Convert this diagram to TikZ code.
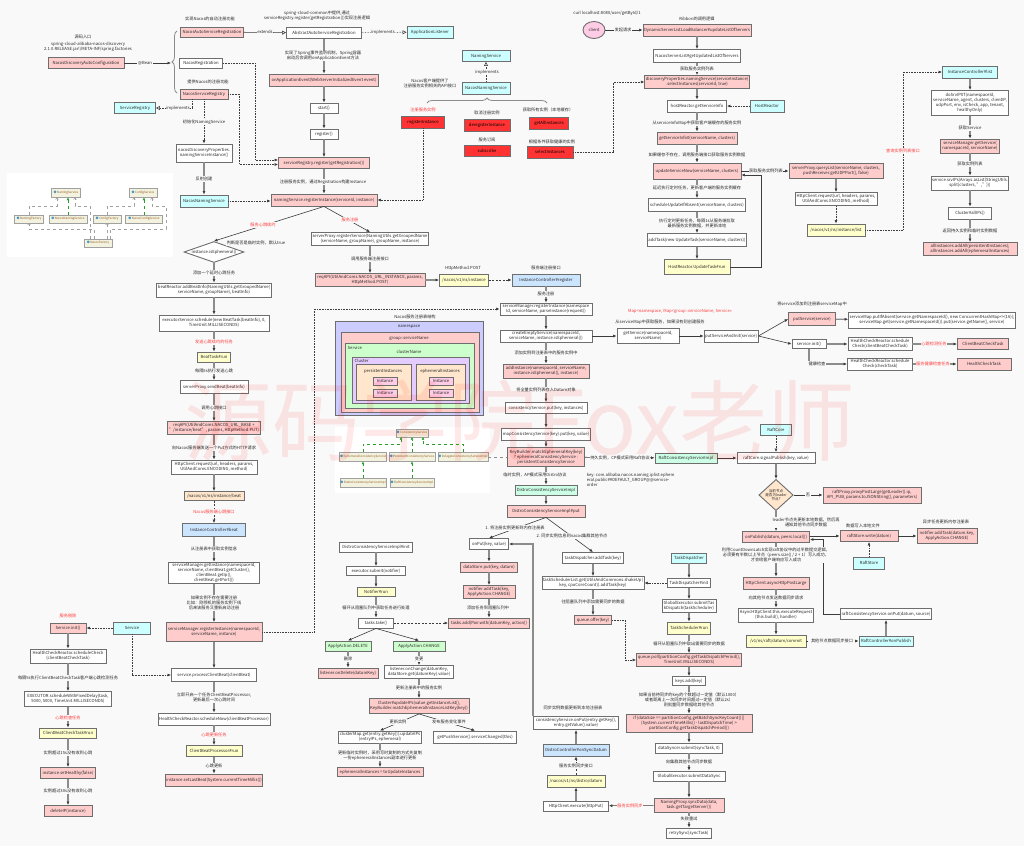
\documentclass[tikz,border=0pt]{standalone}
\usepackage{fontspec}
\setmainfont{Noto Sans CJK SC}
\usepackage{tikz}
\usetikzlibrary{shapes.geometric, arrows.meta, positioning,
                 decorations.pathreplacing, calc}
\definecolor{bgcol}{RGB}{249,249,249}
\definecolor{boxgrey}{RGB}{110,110,110}
\definecolor{linegrey}{RGB}{140,140,140}
\definecolor{darkline}{RGB}{60,60,60}
\definecolor{txtgrey}{RGB}{40,40,40}
\definecolor{markred}{RGB}{255,60,60}
\definecolor{pinkfill}{RGB}{255,204,204}
\definecolor{cyanfill}{RGB}{204,255,255}
\definecolor{yellowfill}{RGB}{255,255,204}
\definecolor{redfill}{RGB}{255,51,51}
\definecolor{bluefill}{RGB}{204,229,255}
\definecolor{greenfill}{RGB}{204,255,204}
\definecolor{mintfill}{RGB}{204,255,230}
\definecolor{peachfill}{RGB}{255,230,204}
\definecolor{lavfill}{RGB}{204,204,255}
\definecolor{lilacfill}{RGB}{229,204,255}
\definecolor{instfill}{RGB}{255,204,230}
\definecolor{clientfill}{RGB}{255,204,230}
\definecolor{umlfill}{RGB}{242,242,222}
\definecolor{umlline}{RGB}{160,160,160}
\definecolor{umltext}{RGB}{150,90,40}
\definecolor{umlgreen}{RGB}{40,160,40}
\definecolor{umlicon}{RGB}{70,150,200}

\begin{document}
\begin{tikzpicture}[x=1pt, y=-1pt,
  font=\fontsize{4.2}{5}\selectfont,
  sz/.style 2 args={minimum width=#1, minimum height=#2},
  wbox/.style={rectangle, draw=boxgrey, line width=0.9pt, fill=white,
               align=center, inner sep=1pt, text=txtgrey},
  pbox/.style={wbox, fill=pinkfill},
  cbox/.style={wbox, fill=cyanfill},
  ybox/.style={wbox, fill=yellowfill},
  rbox/.style={wbox, fill=redfill, text=black},
  bbox/.style={wbox, fill=bluefill},
  gbox/.style={wbox, fill=greenfill},
  mbox/.style={wbox, fill=mintfill},
  obox/.style={wbox, fill=peachfill},
  dia/.style={diamond, draw=boxgrey, line width=0.9pt, fill=white,
              align=center, inner sep=0pt, text=txtgrey},
  regbox/.style={rectangle, draw=boxgrey, line width=0.9pt, inner sep=0pt,
                 anchor=north west},
  panel/.style={rectangle, fill=white, inner sep=0pt, anchor=north west},
  umlbox/.style={rectangle, draw=umlline, line width=0.4pt, fill=umlfill,
                 text=umltext, inner sep=0.5pt,
                 font=\fontsize{3}{3.5}\selectfont},
  lbl/.style={fill=bgcol, inner sep=0.6pt, text=txtgrey, align=center},
  rlbl/.style={lbl, text=markred},
  tag/.style={inner sep=0.5pt, text=txtgrey},
  arr/.style={-{Latex[length=3.5pt,width=3pt,color=darkline]},
              line width=1.2pt, draw=linegrey},
  thinarr/.style={-{Latex[length=3.5pt,width=3pt]}, line width=0.6pt,
                  draw=darkline},
  dotarr/.style={thinarr, densely dotted},
  dasharr/.style={thinarr, dash pattern=on 2pt off 1.5pt},
  extarr/.style={-{Triangle[open,length=4pt,width=4pt]}, line width=0.6pt,
                 draw=darkline},
  implarr/.style={extarr, densely dotted},
  bracket/.style={decorate, decoration={brace, amplitude=5pt},
                  line width=0.8pt, draw=linegrey},
  umlgen/.style={-{Triangle[length=2.5pt,width=2.5pt]}, dashed,
                 line width=0.4pt, draw=umlgreen},
  umldep/.style={-{Straight Barb[length=1.5pt]}, dashed, line width=0.4pt,
                 draw=umlline}
]

% ── canvas ──
\fill[bgcol] (0,0) rectangle (1024,846);
\useasboundingbox (0,0) rectangle (1024,846);

% ── panels of the two class diagrams ──
\node[panel, sz={166}{84}] (umlPanelA) at (7,173) {};
\node[panel, sz={155}{66}] (umlPanelB) at (335,427) {};

% ── client: auto registration ──
\node[pbox, sz={76}{11}] (autoCfg)   at (86,63)  {NacosDiscoveryAutoConfiguration};
\node[pbox, sz={63}{10}] (autoReg)   at (212,32) {NacosAutoServiceRegistration};
\node[wbox, sz={43}{10}] (nacosRegn) at (201,63) {NacosRegistration};
\node[pbox, sz={48}{10}] (svcReg)    at (204,94) {NacosServiceRegistry};
\node[cbox, sz={41}{11}] (svcRegIf)  at (135,108) {ServiceRegistry};
\node[wbox, sz={56}{18}] (namingInit) at (204,153) {nacosDiscoveryProperties.\\namingServiceInstance()};
\node[cbox, sz={48}{12}] (namingSvcL) at (204,201) {NacosNamingService};

\node[wbox, sz={75}{11}]  (absReg)      at (324,33)  {AbstractAutoServiceRegistration};
\node[cbox, sz={46}{12}]  (appListener) at (430,32)  {ApplicationListener};
\node[pbox, sz={109}{12}] (onAppEvt)    at (324,80)  {onApplicationEvent(WebServerInitializedEvent event)};
\node[wbox, sz={28}{10}]  (startCall)   at (324,108) {start()};
\node[wbox, sz={28}{10}]  (registerCall) at (324,134) {register()};
\node[pbox, sz={91}{11}]  (regCall)     at (324,163) {serviceRegistry.register(getRegistration())};
\node[pbox, sz={106}{12}] (namingReg)   at (324,200) {namingService.registerInstance(serviceId, instance)};

% ── client: NamingService api ──
\node[cbox, sz={48}{11}] (namingSvcIf) at (486,56)  {NamingService};
\node[cbox, sz={48}{12}] (namingSvcR)  at (486,88)  {NacosNamingService};
\node[rbox, sz={43}{12}] (apiReg)      at (423,122) {registerInstance};
\node[rbox, sz={46}{12}] (apiDereg)    at (487,125) {deregisterInstance};
\node[rbox, sz={46}{11}] (apiSub)      at (487,151) {subscribe};
\node[rbox, sz={39}{12}] (apiAll)      at (549,123) {getAllInstances};
\node[rbox, sz={46}{12}] (apiSel)      at (550,152) {selectInstances};

% ── client: register request ──
\node[dia, aspect=3, sz={60}{21}] (isEph) at (214,252) {instance.isEphemeral()};
\node[wbox, sz={116}{13}] (regSvc)  at (370,239) {serverProxy.registerService(NamingUtils.getGroupedName\\(serviceName, groupName), groupName, instance)};
\node[pbox, sz={110}{13}] (reqPost) at (370,280) {reqAPI(UtilAndComs.NACOS\_URL\_INSTANCE, params,\\HttpMethod.POST)};
\node[ybox, sz={49}{12}]  (urlInst) at (464,280) {/nacos/v1/ns/instance};
\node[bbox, sz={68}{12}]  (ctrlReg) at (546,280) {InstanceController\#register};

% ── client: heartbeat ──
\node[wbox, sz={115}{14}] (addBeat)   at (214,290) {beatReactor.addBeatInfo(NamingUtils.getGroupedName(\\serviceName, groupName), beatInfo)};
\node[wbox, sz={110}{16}] (schedBeat) at (214,323) {executorService.schedule(new BeatTask(beatInfo), 0,\\TimeUnit.MILLISECONDS)};
\node[ybox, sz={33}{10}]  (beatRun)   at (214,357) {BeatTask\#run};
\node[wbox, sz={68}{13}]  (sendBeat)  at (214,387) {serverProxy.sendBeat(beatInfo)};
\node[pbox, sz={92}{13}]  (reqBeat)   at (214,428) {reqAPI(UtilAndComs.NACOS\_URL\_BASE +\\"/instance/beat", params, HttpMethod.PUT)};
\node[wbox, sz={86}{14}]  (httpBeat)  at (214,467) {HttpClient.request(url, headers, params,\\UtilAndComs.ENCODING, method)};
\node[obox, sz={60}{9}]   (urlBeat)   at (214,496) {/nacos/v1/ns/instance/beat};
\node[bbox, sz={63}{13}]  (ctrlBeat)  at (214,530) {InstanceController\#beat};
\node[wbox, sz={91}{21}]  (getInst)   at (214,573) {serviceManager.getInstance(namespaceId,\\serviceName, clientBeat.getCluster(),\\clientBeat.getIp(),\\clientBeat.getPort())};
\node[pbox, sz={96}{19}]  (regInstB)  at (214,632) {serviceManager.registerInstance(namespaceId,\\serviceName, instance)};
\node[wbox, sz={85}{13}]  (procBeat)  at (214,675) {service.processClientBeat(clientBeat)};
\node[wbox, sz={112}{12}] (schedNow)  at (214,719) {HealthCheckReactor.scheduleNow(clientBeatProcessor)};
\node[ybox, sz={56}{11}]  (procRun)   at (214,751) {ClientBeatProcessor\#run};
\node[pbox, sz={96}{12}]  (setLast)   at (214,780) {instance.setLastBeat(System.currentTimeMillis())};

% ── server: expired instances ──
\node[cbox, sz={37}{12}] (svcBox)     at (132,628) {Service};
\node[pbox, sz={36}{10}] (svcInitL)   at (68,628)  {Service.init()};
\node[wbox, sz={76}{14}] (hcSched)    at (68,656)  {HealthCheckReactor.scheduleCheck\\(clientBeatCheckTask)};
\node[wbox, sz={87}{15}] (fixDelay)   at (68,699)  {EXECUTOR.scheduleWithFixedDelay(task,\\5000, 5000, TimeUnit.MILLISECONDS)};
\node[ybox, sz={57}{10}] (checkRun)   at (68,733)  {ClientBeatCheckTask\#run};
\node[pbox, sz={55}{11}] (setHealthy) at (68,773)  {instance.setHealthy(false)};
\node[pbox, sz={48}{11}] (delIp)      at (68,811)  {deleteIP(instance)};

% ── registry structure ──
\node[regbox, fill=lavfill,   sz={148}{94}] (nsBox)   at (335,321) {};
\node[regbox, fill=pinkfill,  sz={138}{80}] (grpBox)  at (341,332) {};
\node[regbox, fill=greenfill, sz={129}{65}] (svcArea) at (345,343) {};
\node[regbox, fill=lilacfill, sz={117}{46}] (cluBox)  at (352,357) {};
\node[regbox, fill=peachfill, sz={55}{36}]  (perBox)  at (356,364) {};
\node[regbox, fill=peachfill, sz={49}{36}]  (ephBox)  at (416,364) {};
\node[wbox, fill=instfill, sz={24}{8}] (instA) at (385,381) {Instance};
\node[wbox, fill=instfill, sz={24}{8}] (instB) at (385,393) {Instance};
\node[wbox, fill=instfill, sz={24}{8}] (instC) at (441,381) {Instance};
\node[wbox, fill=instfill, sz={24}{8}] (instD) at (441,393) {Instance};
\node[tag] (tNs)      at (409,327) {namespace};
\node[tag] (tGrp)     at (409,338) {group::serviceName};
\node[tag, anchor=west] (tSvc) at (347,348) {Service};
\node[tag] (tCluName) at (409,352) {clusterName};
\node[tag, anchor=west] (tClu) at (354,361) {Cluster};
\node[tag] (tPer)     at (383,371) {persistentInstances};
\node[tag] (tEph)     at (440,371) {ephemeralInstances};

% ── class diagram: factories ──
\node[umlbox, sz={29}{9}] (namingSvcU)   at (66,193)  {{\color{umlicon}●}\,NamingService};
\node[umlbox, sz={28}{9}] (configSvcU)   at (143,193) {{\color{umlicon}●}\,ConfigService};
\node[umlbox, sz={29}{8}] (namingFacU)   at (29,219)  {{\color{umlicon}●}\,NamingFactory};
\node[umlbox, sz={38}{8}] (nacosNamingU) at (68,219)  {{\color{umlicon}●}\,NacosNamingService};
\node[umlbox, sz={28}{8}] (configFacU)   at (107,219) {{\color{umlicon}●}\,ConfigFactory};
\node[umlbox, sz={37}{8}] (nacosConfU)   at (144,219) {{\color{umlicon}●}\,NacosConfigService};
\node[umlbox, sz={28}{8}] (nacosFacU)    at (98,243)  {{\color{umlicon}●}\,NacosFactory};

% ── class diagram: consistency services ──
\node[umlbox, sz={31}{8}] (consCS)   at (412,433) {{\color{umlicon}●}\,ConsistencyService};
\node[umlbox, sz={44}{9}] (ephemCS)  at (363,457) {{\color{umlicon}●}\,EphemeralConsistencyService};
\node[umlbox, sz={43}{9}] (persCS)   at (412,457) {{\color{umlicon}●}\,PersistentConsistencyService};
\node[umlbox, sz={49}{9}] (delegCS)  at (463,457) {{\color{umlicon}●}\,DelegateConsistencyServiceImpl};
\node[umlbox, sz={44}{9}] (distroCS) at (363,483) {{\color{umlicon}●}\,DistroConsistencyServiceImpl};
\node[umlbox, sz={42}{9}] (raftCS)   at (412,483) {{\color{umlicon}●}\,RaftConsistencyServiceImpl};

% ── server: register ──
\node[wbox, sz={92}{12}]  (svcMgrReg)  at (546,309) {serviceManager.registerInstance(namespace\\Id, serviceName, parseInstance(request))};
\node[wbox, sz={92}{12}]  (createEmpty) at (546,336) {createEmptyService(namespaceId,\\serviceName, instance.isEphemeral())};
\node[wbox, sz={62}{15}]  (getSvc)     at (648,336) {getService(namespaceId,\\serviceName)};
\node[wbox, sz={53}{12}]  (putInit)    at (731,336) {putServiceAndInit(service)};
\node[pbox, sz={47}{13}]  (putSvc)     at (812,319) {putService(service)};
\node[wbox, sz={152}{16}] (mapPut)     at (932,320) {serviceMap.putIfAbsent(service.getNamespaceId(), new ConcurrentHashMap<>(16));\\serviceMap.get(service.getNamespaceId()).put(service.getName(), service)};
\node[wbox, sz={34}{9}]   (svcInit)    at (809,344) {service.init()};
\node[wbox, sz={64}{13}]  (hcBeat)     at (880,344) {HealthCheckReactor.schedule\\Check(clientBeatCheckTask)};
\node[pbox, sz={51}{11}]  (beatTask)   at (983,344) {ClientBeatCheckTask};
\node[wbox, sz={65}{12}]  (hcCheck)    at (880,364) {HealthCheckReactor.schedule\\Check(checkTask)};
\node[pbox, sz={54}{12}]  (hcTask)     at (984,364) {HealthCheckTask};
\node[pbox, sz={86}{14}]  (addInst)    at (546,371) {addInstance(namespaceId, serviceName,\\instance.isEphemeral(), instance)};
\node[wbox, sz={82}{11}]  (consPut)    at (546,408) {consistencyService.put(key, instances)};
\node[wbox, sz={87}{12}]  (mapConsPut) at (546,434) {mapConsistencyService(key).put(key, value)};
\node[pbox, sz={77}{19}]  (keyMatch)   at (546,457) {KeyBuilder.matchEphemeralKey(key)\\? ephemeralConsistencyService :\\persistentConsistencyService};
\node[mbox, sz={62}{10}]  (raftImpl)   at (686,458) {RaftConsistencyServiceImpl};
\node[wbox, sz={78}{11}]  (raftSignal) at (776,458) {raftCore.signalPublish(key, value)};
\node[cbox, sz={31}{11}]  (raftCore)   at (776,430) {RaftCore};
\node[mbox, sz={62}{10}]  (distroImpl) at (546,490) {DistroConsistencyServiceImpl};
\node[pbox, sz={78}{12}]  (distroPut)  at (546,511) {DistroConsistencyServiceImpl\#put};

% ── server: raft ──
\node[dia, fill=peachfill, aspect=1.1, sz={34}{30},
      font=\fontsize{3.6}{4.2}\selectfont] (leaderDia) at (776,495) {当前节点\\是否为leader\\节点?};
\node[pbox, sz={98}{16}] (proxyPost)  at (872,495) {raftProxy.proxyPostLarge(getLeader().ip,\\API\_PUB, params.toJSONString(), parameters)};
\node[pbox, sz={67}{11}] (onPublish)  at (776,537) {onPublish(datum, peers.local())};
\node[pbox, sz={58}{11}] (raftWrite)  at (869,536) {raftStore.write(datum)};
\node[cbox, sz={31}{12}] (raftStore)  at (869,563) {RaftStore};
\node[pbox, sz={60}{15}] (notifyRaft) at (947,536) {notifier.addTask(datum.key,\\ApplyAction.CHANGE)};
\node[pbox, sz={66}{12}] (asyncPost)  at (776,583) {HttpClient.asyncHttpPostLarge};
\node[wbox, sz={75}{14}] (execReq)    at (776,615) {AsyncHttpClient.this.executeRequest\\(this.build(), handler)};
\node[ybox, sz={60}{12}] (urlCommit)  at (776,641) {/v1/ns/raft/datum/commit};
\node[cbox, sz={54}{10}] (raftPub)    at (886,641) {RaftController\#onPublish};
\node[wbox, sz={90}{11}] (raftOnPut)  at (886,614) {raftConsistencyService.onPut(datum, source)};

% ── server: distro, local ──
\node[wbox, sz={39}{11}]  (onPut)      at (489,544) {onPut(key, value)};
\node[pbox, sz={57}{10}]  (dsPut)      at (489,567) {dataStore.put(key, datum)};
\node[pbox, sz={52}{13}]  (notAdd)     at (489,592) {notifier.addTask(key,\\ApplyAction.CHANGE)};
\node[pbox, sz={81}{10}]  (tasksAdd)   at (489,623) {tasks.add(Pair.with(datumKey, action))};
\node[wbox, sz={73}{10}]  (distroInit) at (376,547) {DistroConsistencyServiceImpl\#init};
\node[wbox, sz={59}{9}]   (execSub)    at (376,571) {executor.submit(notifier)};
\node[ybox, sz={38}{9}]   (notRun)     at (376,592) {Notifier\#run};
\node[wbox, sz={35}{10}]  (tasksTake)  at (376,623) {tasks.take()};
\node[gbox, sz={46}{10}]  (actDel)     at (348,646) {ApplyAction.DELETE};
\node[gbox, sz={52}{10}]  (actChg)     at (419,646) {ApplyAction.CHANGE};
\node[pbox, sz={60}{10}]  (onDel)      at (348,673) {listener.onDelete(datumKey)};
\node[wbox, sz={69}{13}]  (onChg)      at (419,672) {listener.onChange(datumKey,\\dataStore.get(datumKey).value)};
\node[pbox, sz={100}{15}] (updIps)     at (419,706) {Cluster\#updateIPs(value.getInstanceList(),\\KeyBuilder.matchEphemeralInstanceListKey(key))};
\node[wbox, sz={83}{12}]  (cluUpd)     at (380,737) {clusterMap.get(entry.getKey()).updateIPs\\(entryIPs, ephemeral)};
\node[wbox, sz={83}{12}]  (pushChg)    at (475,737) {getPushService().serviceChanged(this)};
\node[pbox, sz={86}{9}]   (ephSet)     at (380,772) {ephemeralInstances = toUpdateInstances};

% ── server: distro, sync ──
\node[wbox, sz={61}{11}]  (dispAdd)   at (593,558) {taskDispatcher.addTask(key)};
\node[cbox, sz={35}{10}]  (taskDisp)  at (689,558) {TaskDispatcher};
\node[wbox, sz={101}{13}] (schedList) at (593,583) {taskSchedulerList.get(UtilsAndCommons.shakeUp(\\key, cpuCoreCount)).addTask(key)};
\node[wbox, sz={43}{9}]   (dispInit)  at (689,583) {TaskDispatcher\#init};
\node[pbox, sz={37}{9}]   (qOffer)    at (593,620) {queue.offer(key)};
\node[wbox, sz={54}{13}]  (subDisp)   at (689,606) {GlobalExecutor.submitTas\\kDispatch(taskScheduler)};
\node[ybox, sz={43}{12}]  (schedRun)  at (689,628) {TaskScheduler\#run};
\node[pbox, sz={105}{13}] (qPoll)     at (689,660) {queue.poll(partitionConfig.getTaskDispatchPeriod(),\\TimeUnit.MILLISECONDS)};
\node[wbox, sz={33}{9}]   (keysAdd)   at (689,681) {keys.add(key)};
\node[pbox, sz={126}{18}] (ifBatch)   at (689,723) {if (dataSize == partitionConfig.getBatchSyncKeyCount() ||\\(System.currentTimeMillis() - lastDispatchTime) >\\partitionConfig.getTaskDispatchPeriod())};
\node[wbox, sz={67}{10}]  (syncSub)   at (689,748) {dataSyncer.submit(syncTask, 0)};
\node[wbox, sz={72}{10}]  (subSync)   at (689,776) {GlobalExecutor.submitDataSync};
\node[pbox, sz={70}{14}]  (syncData)  at (689,805) {NamingProxy.syncData(data,\\task.getTargetServer())};
\node[wbox, sz={45}{10}]  (retry)     at (689,833) {retrySync(syncTask)};
\node[wbox, sz={65}{10}]  (httpExec)  at (576,806) {HttpClient.execute(httpPut)};
\node[ybox, sz={58}{12}]  (urlDatum)  at (576,781) {/nacos/v1/ns/distro/datum};
\node[bbox, sz={66}{12}]  (ctrlDatum) at (576,750) {DistroController\#onSyncDatum};
\node[wbox, sz={85}{13}]  (cOnPut)    at (576,723) {consistencyService.onPut(entry.getKey(),\\entry.getValue().value)};

% ── client: service discovery ──
\node[ellipse, draw=boxgrey, line width=0.9pt, fill=clientfill, text=txtgrey,
      inner sep=0pt, sz={22}{17}] (client) at (594,30) {client};
\node[pbox, sz={108}{12}] (dynLB)       at (697,30)  {DynamicServerListLoadBalancer\#updateListOfServers};
\node[wbox, sz={87}{13}]  (srvList)     at (697,56)  {NacosServerList\#getUpdatedListOfServers};
\node[pbox, sz={91}{13}]  (discSel)     at (697,82)  {discoveryProperties.namingService(serviceInstance)\\.selectInstances(serviceId, true)};
\node[wbox, sz={59}{12}]  (hostGet)     at (697,106) {hostReactor.getServiceInfo};
\node[cbox, sz={34}{12}]  (hostReactor) at (767,106) {HostReactor};
\node[pbox, sz={80}{12}]  (getInfo0)    at (697,138) {getServiceInfo0(serviceName, clusters)};
\node[pbox, sz={88}{16}]  (updNow)      at (697,171) {updateServiceNow(serviceName, clusters)};
\node[wbox, sz={97}{13}]  (schedUpd)    at (697,205) {scheduleUpdateIfAbsent(serviceName, clusters)};
\node[wbox, sz={99}{13}]  (addUpd)      at (697,240) {addTask(new UpdateTask(serviceName, clusters))};
\node[ybox, sz={66}{15}]  (updRun)      at (697,267) {HostReactor.UpdateTask\#run};
\node[pbox, sz={94}{15}]  (queryList)   at (836,171) {serverProxy.queryList(serviceName, clusters,\\pushReceiver.getUDPPort(), false)};
\node[wbox, sz={82}{13}]  (httpReq)     at (836,199) {HttpClient.request(url, headers, params,\\UtilAndComs.ENCODING, method)};
\node[ybox, sz={58}{12}]  (urlList)     at (836,230) {/nacos/v1/ns/instance/list};
\node[cbox, sz={55}{12}]  (ctrlList)    at (970,72)  {InstanceController\#list};
\node[wbox, sz={77}{25}]  (doSrv)       at (970,103) {doSrvIPXT(namespaceId,\\serviceName, agent, clusters, clientIP,\\udpPort, env, isCheck, app, tenant,\\healthyOnly)};
\node[pbox, sz={59}{14}]  (getSvcS)     at (970,146) {serviceManager.getService(\\namespaceId, serviceName)};
\node[wbox, sz={76}{14}]  (srvIps)      at (970,183) {service.srvIPs(Arrays.asList(StringUtils.\\split(clusters, ",")))};
\node[wbox, sz={43}{12}]  (allIps)      at (970,213) {Cluster\#allIPs()};
\node[pbox, sz={94}{13}]  (addAll)      at (970,249) {allInstances.addAll(persistentInstances);\\allInstances.addAll(ephemeralInstances)};

% ── connectors: client registration ──
\coordinate (braceTip) at (171,63);
\draw[thinarr] (autoCfg) -- (braceTip);
\draw[bracket] (177,93) -- (177,31);
\draw[extarr] (autoReg) -- (absReg);
\draw[implarr] (absReg) -- (appListener);
\draw[implarr] ([xshift=-12pt]svcReg.south) |- (svcRegIf.east);
\draw[dotarr] (svcReg) -- (namingInit);
\draw[arr] (namingInit) -- (namingSvcL);
\draw[dotarr] (namingSvcL.east) -- (namingSvcL.east -| namingReg.west);
\draw[dotarr] (nacosRegn.east) -- ++(32,0) |- ([yshift=3pt]regCall.west);
\draw[dotarr] (svcReg.east) -- ++(11,0) |- ([yshift=-1.5pt]regCall.west);
\draw[arr] (absReg) -- (onAppEvt);
\draw[arr] (onAppEvt) -- (startCall);
\draw[arr] (startCall) -- (registerCall);
\draw[arr] (registerCall) -- (regCall);
\draw[arr] (regCall) -- (namingReg);
\draw[implarr] (namingSvcR) -- (namingSvcIf);
\draw[bracket] (427,103) -- (547,103);
\draw[dotarr] (apiReg.south) |- (namingReg.east);
\draw[thinarr] (namingReg.south) -- (isEph.north);
\draw[thinarr] (namingReg.south) -- (regSvc.north);
\draw[arr] (regSvc) -- (reqPost);
\draw[arr] (reqPost) -- (urlInst);
\draw[dasharr] (urlInst) -- (ctrlReg);
\draw[arr] (ctrlReg) -- (svcMgrReg);

% ── connectors: heartbeat ──
\draw[arr] (isEph) -- (addBeat);
\draw[arr] (addBeat) -- (schedBeat);
\draw[arr] (schedBeat) -- (beatRun);
\draw[arr] (beatRun) -- (sendBeat);
\draw[arr] (sendBeat) -- (reqBeat);
\draw[arr] (reqBeat) -- (httpBeat);
\draw[arr] (httpBeat) -- (urlBeat);
\draw[dasharr] (urlBeat) -- (ctrlBeat);
\draw[arr] (ctrlBeat) -- (getInst);
\draw[arr] (getInst) -- (regInstB);
\draw[arr] (regInstB) -- (procBeat);
\draw[arr] (procBeat) -- (schedNow);
\draw[arr] (schedNow) -- (procRun);
\draw[arr] (procRun) -- (setLast);
\draw[dotarr] (svcBox) -- (svcInitL);
\draw[dotarr] (svcBox.south) |- (procBeat.west);
\draw[arr] (svcInitL) -- (hcSched);
\draw[arr] (hcSched) -- (fixDelay);
\draw[arr] (fixDelay) -- (checkRun);
\draw[arr] (checkRun) -- (setHealthy);
\draw[arr] (setHealthy) -- (delIp);
\draw[dotarr] (regInstB.east) -- ++(52,0) |- (svcMgrReg.west);

% ── connectors: class diagrams ──
\draw[umlgen] (nacosNamingU.north) -- (nacosNamingU.north |- namingSvcU.south);
\draw[umlgen] (nacosConfU.north) -- (nacosConfU.north |- configSvcU.south);
\draw[umldep] (namingFacU.north) -- ++(0,-9) -| ([xshift=-9pt]namingSvcU.south);
\draw[umldep] (configFacU.north) -- ++(0,-9) -| ([xshift=-9pt]configSvcU.south);
\draw[umldep] ([xshift=-8pt]nacosFacU.north) -- ++(0,-33) -| ([xshift=9pt]namingSvcU.south);
\draw[umldep] ([xshift=-4pt]nacosFacU.north) -- ++(0,-10) -| (namingFacU.south);
\draw[umldep] ([xshift=9pt]nacosFacU.north) -- (configFacU.south);
\draw[umldep] ([xshift=12pt]nacosFacU.north) -- ++(0,-10) -| ++(56,-23) -| ([xshift=9pt]configSvcU.south);
\draw[umlgen] (ephemCS.north) -- ++(0,-8) -| ([xshift=-11pt]consCS.south);
\draw[umlgen] (persCS) -- (consCS);
\draw[umlgen] (delegCS.north) -- ++(0,-8) -| ([xshift=11pt]consCS.south);
\draw[umlgen] (distroCS) -- (ephemCS);
\draw[umlgen] (raftCS) -- (persCS);
\draw[dashed, line width=0.5pt, draw=linegrey] (delegCS.east) -- (keyMatch.west);

% ── connectors: server register ──
\draw[arr] (svcMgrReg) -- (createEmpty);
\draw[thinarr] (createEmpty) -- (getSvc);
\draw[thinarr] (getSvc) -- (putInit);
\draw[thinarr] (putInit.east) -- (putSvc.west);
\draw[thinarr] (putInit.east) -- (svcInit.west);
\draw[arr] (putSvc) -- (mapPut);
\draw[arr] (svcInit) -- (hcBeat);
\draw[arr] (hcBeat) -- (beatTask);
\draw[arr] (svcInit.south) |- (hcCheck.west);
\draw[arr] (hcCheck) -- (hcTask);
\draw[arr] (createEmpty) -- (addInst);
\draw[arr] (addInst) -- (consPut);
\draw[arr] (consPut) -- (mapConsPut);
\draw[arr] (mapConsPut) -- (keyMatch);
\draw[arr] (keyMatch) -- (distroImpl);
\draw[arr] (distroImpl) -- (distroPut);
\draw[thinarr] (keyMatch) -- (raftImpl);
\draw[thinarr] (raftImpl) -- (raftSignal);

% ── connectors: raft ──
\draw[dotarr] (raftCore) -- (raftSignal);
\draw[arr] (raftSignal) -- (leaderDia);
\draw[thinarr] (leaderDia) -- (proxyPost);
\draw[arr] (leaderDia) -- (onPublish);
\draw[thinarr] ([yshift=1pt]onPublish.east) -- ([yshift=1pt]onPublish.east -| raftWrite.west);
\draw[thinarr] (raftWrite) -- (notifyRaft);
\draw[dotarr] (raftStore) -- (raftWrite);
\draw[arr] (onPublish) -- (asyncPost);
\draw[arr] (asyncPost) -- (execReq);
\draw[arr] (execReq) -- (urlCommit);
\draw[dasharr] (urlCommit) -- (raftPub);
\draw[arr] (raftPub) -- (raftOnPut);
\draw[thinarr] (raftOnPut.west) -- ++(-17,0) |- ([yshift=-2.5pt]onPublish.east);

% ── connectors: distro ──
\draw[thinarr] (distroPut.south) -- (onPut.north);
\draw[thinarr] (distroPut.south) -- (dispAdd.north);
\draw[arr] (onPut) -- (dsPut);
\draw[arr] (dsPut) -- (notAdd);
\draw[arr] (notAdd) -- (tasksAdd);
\draw[arr] (distroInit) -- (execSub);
\draw[arr] (execSub) -- (notRun);
\draw[arr] (notRun) -- (tasksTake);
\draw[dasharr] (tasksTake) -- (tasksAdd);
\draw[thinarr] (tasksTake.south) -- (actDel.north);
\draw[thinarr] (tasksTake.south) -- (actChg.north);
\draw[arr] (actDel) -- (onDel);
\draw[arr] (actChg) -- (onChg);
\draw[arr] (onChg) -- (updIps);
\draw[thinarr] (updIps.south) -- (cluUpd.north);
\draw[thinarr] (updIps.south) -- (pushChg.north);
\draw[arr] (cluUpd) -- (ephSet);
\draw[arr] (dispAdd) -- (schedList);
\draw[arr] (schedList) -- (qOffer);
\draw[arr] (taskDisp) -- (dispInit);
\draw[dotarr] (dispInit) -- (schedList);
\draw[arr] (dispInit) -- (subDisp);
\draw[arr] (subDisp) -- (schedRun);
\draw[arr] (schedRun) -- (qPoll);
\draw[dotarr] (qOffer.east) -- ++(13,0) |- (qPoll.west);
\draw[arr] (qPoll) -- (keysAdd);
\draw[arr] (keysAdd) -- (ifBatch);
\draw[arr] (ifBatch) -- (syncSub);
\draw[arr] (syncSub) -- (subSync);
\draw[arr] (subSync) -- (syncData);
\draw[arr] (syncData) -- (retry);
\draw[thinarr] (syncData) -- (httpExec);
\draw[arr] (httpExec) -- (urlDatum);
\draw[dasharr] (urlDatum) -- (ctrlDatum);
\draw[arr] (ctrlDatum) -- (cOnPut);
\draw[arr] (cOnPut.north west) |- (onPut.east);

% ── connectors: service discovery ──
\draw[thinarr] (client) -- (dynLB);
\draw[arr] (dynLB) -- (srvList);
\draw[arr] (srvList) -- (discSel);
\draw[arr] (discSel) -- (hostGet);
\draw[arr] (hostGet) -- (getInfo0);
\draw[arr] (getInfo0) -- (updNow);
\draw[arr] (updNow) -- (schedUpd);
\draw[arr] (schedUpd) -- (addUpd);
\draw[arr] (addUpd) -- (updRun);
\draw[dotarr] (hostReactor) -- (hostGet);
\draw[dotarr] (apiSel.east) -- ++(40,0) |- (discSel.west);
\draw[thinarr] (updRun.east) -- ++(31,0) |- ([yshift=-4pt]updNow.east);
\draw[thinarr] (updNow.east) -- (queryList.west);
\draw[arr] (queryList) -- (httpReq);
\draw[dotarr] (httpReq) -- (urlList);
\draw[dotarr] (urlList.east) -- ++(38,0) |- (ctrlList.west);
\draw[arr] (ctrlList) -- (doSrv);
\draw[arr] (doSrv) -- (getSvcS);
\draw[arr] (getSvcS) -- (srvIps);
\draw[arr] (srvIps) -- (allIps);
\draw[arr] (allIps) -- (addAll);

% ── labels: client registration ──
\node[lbl] (lSrc)     at (83,37)    {源码入口};
\node[lbl] (lJar)     at (88,46.5)  {spring-cloud-alibaba-nacos-discovery\\2.1.0.RELEASE.jar!/META-INF/spring.factories};
\node[lbl] (lBean)    at (145,63)   {@Bean};
\node[lbl] (lAuto)    at (210,19)   {实现Nacos的自动注册功能};
\node[lbl] (lProv)    at (208,82)   {提供Nacos的注册功能};
\node[lbl] (lImplA)   at (178,108)  {implements};
\node[lbl] (lInitNs)  at (204,122)  {初始化NamingService};
\node[lbl] (lRefl)    at (204,179)  {反射创建};
\node[lbl] (lCommon)  at (317,15.5) {spring-cloud-common中提供,通过\\serviceRegistry.register(getRegistration())实现注册逻辑};
\node[lbl] (lExt)     at (265,32)   {extends};
\node[lbl] (lImplB)   at (383,32)   {implements};
\node[lbl] (lEvent)   at (323,56)   {实现了Spring事件监听机制，Spring容器\\启动后会调用onApplicationEvent方法};
\node[lbl] (lBuild)   at (323,182)  {注册服务实例，通过Registration构建Instance};
\node[lbl] (lImplC)   at (487,72)   {implements};
\node[lbl] (lClient)  at (430,83.5) {Nacos客户端提供了\\注册服务实例相关的API接口};
\node[rlbl] (lApiReg) at (423,110)  {注册服务实例};
\node[lbl] (lApiDereg) at (487,113) {取消注册实例};
\node[lbl] (lApiSub)  at (487,140)  {服务订阅};
\node[lbl] (lApiAll)  at (548,110)  {获取所有实例（本地缓存）};
\node[lbl] (lApiSel)  at (552,142)  {根据条件获取健康的实例};
\node[rlbl] (lBeatBr) at (263,225)  {服务心跳续约};
\node[rlbl] (lRegBr)  at (350,220)  {服务注册};
\node[lbl] (lIsEph)   at (256,243)  {判断是否是临时实例，默认true};
\node[lbl] (lAddBeat) at (214,273)  {添加一个延时心跳任务};
\node[lbl] (lCallReg) at (370,259)  {调用服务端注册接口};
\node[lbl] (lPost)    at (463,268)  {HttpMethod.POST};
\node[lbl] (lRegApi)  at (546,268)  {服务端注册接口};
\node[lbl] (lSvcReg)  at (546,294)  {服务注册};

% ── labels: heartbeat ──
\node[rlbl] (lBeatTask) at (214,342) {发送心跳续约的任务};
\node[lbl] (lEvery5)  at (214,371)  {每隔5s执行发送心跳};
\node[lbl] (lCallBeat) at (214,408) {调用心跳接口};
\node[lbl] (lPut)     at (214,448)  {向Nacos服务端发送一个Put方式的HTTP请求};
\node[rlbl] (lBeatApi) at (214,512) {Nacos服务端心跳接口};
\node[lbl] (lGetInst) at (214,549)  {从注册表中获取实例信息};
\node[lbl] (lReReg)   at (214,603)  {如果实例不存在需要注册\\比如：刚停机的服务实例下线\\后来该服务又重新启动注册};
\node[lbl] (lProc)    at (214,697.5) {立即开启一个任务ClientBeatProcessor,\\更新最后一次心跳时间};
\node[rlbl] (lUpdTask) at (214,735) {心跳更新任务};
\node[lbl] (lUpd)     at (214,766)  {心跳更新};
\node[rlbl] (lEvict)  at (68,616)   {服务剔除};
\node[lbl] (lEvery5b) at (68,678)   {每隔5s执行ClientBeatCheckTask客户端心跳检测任务};
\node[rlbl] (lCheck)  at (68,718)   {心跳检查任务};
\node[lbl] (l15s)     at (68,753)   {实例超过15s没有收到心跳};
\node[lbl] (l30s)     at (68,791)   {实例超过30s没有收到心跳};

% ── labels: server ──
\node[tag] (lTable)   at (415,317)  {Nacos服务注册表结构};
\node[rlbl] (lMap)    at (680,311)  {Map<namespace, Map<group::serviceName, Service>>};
\node[lbl] (lGetSvc)  at (660,322)  {从serviceMap中获取服务，如果没有则创建服务};
\node[lbl] (lPutSvc)  at (812,304)  {将service添加到注册表serviceMap中};
\node[rlbl] (lBeatChk) at (934,344) {心跳检测任务};
\node[lbl] (lHealth)  at (817,364)  {健康检查};
\node[rlbl] (lHcTask) at (933,364)  {服务健康检查任务};
\node[lbl] (lAddInst) at (546,353)  {添加实例到注册表中的服务实例中};
\node[lbl] (lDatum)   at (546,390)  {将全量实例列表存入Datum对象};
\node[lbl] (lCp)      at (620,458)  {持久实例，CP模式采用Raft协议};
\node[lbl] (lAp)      at (535,475)  {临时实例，AP模式采用Distro协议};
\node[lbl, align=left, anchor=west] (lKey) at (586,480) {key: com.alibaba.nacos.naming.iplist.ephem\\eral.public\#\#DEFAULT\_GROUP@@service-\\order};
\node[lbl] (lStepA)   at (515,528)  {1. 将注册实例更新到内存注册表};
\node[lbl] (lStepB)   at (572,536)  {2. 同步实例信息到nacos集群其他节点};
\node[lbl] (lQueue)   at (488,608)  {添加任务到阻塞队列中};
\node[lbl] (lLoop)    at (376,608)  {循环从阻塞队列中获取任务进行处理};
\node[lbl] (lDel)     at (348,659)  {删除};
\node[lbl] (lChg)     at (419,659)  {变更};
\node[lbl] (lUpdReg)  at (419,688)  {更新注册表中的服务实例};
\node[lbl] (lUpdInst) at (398,722)  {更新实例};
\node[lbl] (lPubEvt)  at (449,722)  {发布服务变化事件};
\node[lbl] (lCow)     at (380,755.5) {更新临时实例时，采用写时复制的方式先复制\\一份ephemeralInstances副本进行更新};

% ── labels: raft ──
\node[lbl] (lNo)      at (808,495)  {否};
\node[lbl] (lYes)     at (776,520)  {是};
\node[lbl] (lLeader)  at (806,522.5) {leader节点先更新本地数据，然后再\\通知其他节点同步数据};
\node[lbl] (lWrite)   at (863,526)  {数据写入本地文件};
\node[lbl] (lAsync)   at (946,522)  {异步任务更新内存注册表};
\node[lbl] (lLatch)   at (776,555)  {利用CountDownLatch实现raft协议中的过半数提交逻辑，\\必须要有半数以上节点（peers.size() / 2 + 1）写入成功，\\才会给客户端响应写入成功};
\node[lbl] (lSendSync) at (776,598) {向其他节点发送数据同步请求};
\node[lbl] (lCommit)  at (832,641)  {其他节点数据同步接口};

% ── labels: distro sync ──
\node[lbl] (lOffer)   at (593,602)  {往阻塞队列中添加需要同步的数据};
\node[lbl] (lPoll)    at (689,644)  {循环从阻塞队列中取出需要同步的数据};
\node[lbl] (lBatch)   at (689,700)  {如果当前待同步的key的个数超过一定值（默认1000）\\或者距离上一次同步时间超过一定值（默认2s）\\则批量同步数据给其他节点};
\node[lbl] (lSyncOth) at (689,762)  {向集群其他节点同步数据};
\node[rlbl] (lSyncInst) at (630,806) {服务实例同步};
\node[lbl] (lRetry)   at (689,819)  {失败重试};
\node[lbl] (lSyncApi) at (576,766)  {服务实例同步接口};
\node[lbl] (lSyncReg) at (573,708)  {同步实例数据更新到本地注册表};

% ── labels: service discovery ──
\node[lbl] (lCurl)    at (607,13)   {curl localhost:8080/user/getById/1};
\node[lbl] (lReq)     at (623,30)   {发起请求};
\node[lbl] (lRibbon)  at (697,19)   {Ribbon的调用逻辑};
\node[lbl] (lList)    at (697,69)   {获取服务实例列表};
\node[lbl] (lCache)   at (697,123)  {从serviceInfoMap中获取客户端缓存的服务实例};
\node[lbl] (lNoCache) at (697,155)  {如果缓存不存在，调用服务端接口获取服务实例数据};
\node[lbl] (lQuery)   at (766,171)  {获取服务实例列表};
\node[lbl] (lDelay)   at (697,188)  {延迟执行定时任务，更新客户端的服务实例缓存};
\node[lbl] (lEvery1)  at (697,223.5) {执行定时更新任务，每隔1s从服务端拉取\\最新服务实例数据，并更新本地};
\node[rlbl] (lListApi) at (903,151) {查询实例列表接口};
\node[lbl] (lGetS)    at (970,128)  {获取Service};
\node[lbl] (lGetL)    at (970,164)  {获取实例列表};
\node[lbl] (lRet)     at (970,231)  {返回持久实例和临时实例数据};

% ── watermark ──
\node[text=red, text opacity=0.09, font=\fontsize{88}{88}\selectfont]
  (wmark) at (520,421) {源码学院Fox老师};

\end{tikzpicture}
\end{document}
